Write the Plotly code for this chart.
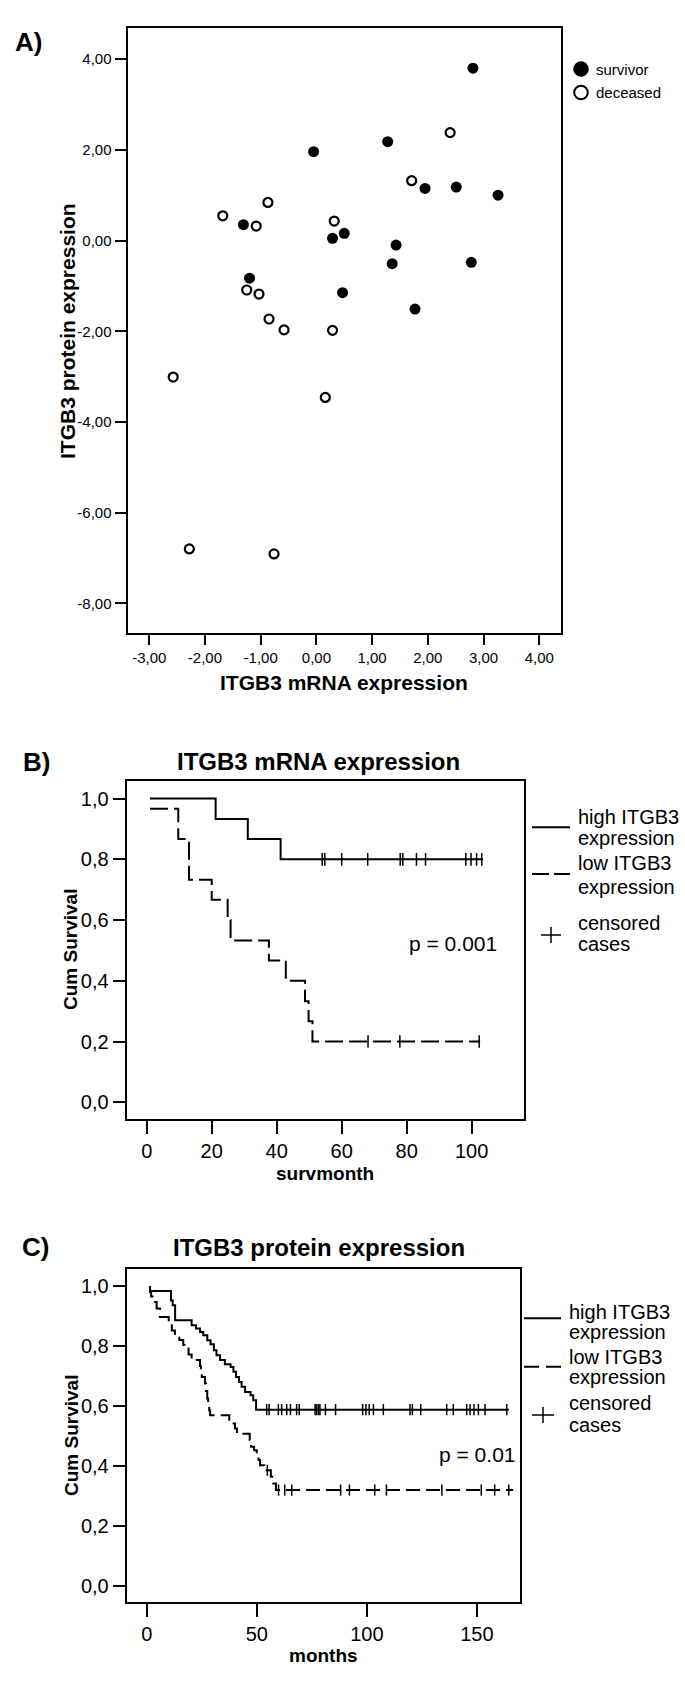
import plotly.graph_objects as go

W, H = 685, 1693

# ---------------- Panel A data (ITGB3 mRNA vs protein) ----------------
survivor_mrna = [2.81, 1.28, -0.05, 1.95, 2.51, 3.26, -1.31, 0.29, 0.50, 1.43, 1.36, 2.78, -1.20, 0.47, 1.77]
survivor_prot = [3.80, 2.18, 1.96, 1.15, 1.18, 1.00, 0.35, 0.05, 0.16, -0.10, -0.51, -0.48, -0.83, -1.15, -1.51]
deceased_mrna = [2.40, 1.71, -0.87, -1.68, -1.08, 0.32, -1.25, -1.03, -0.85, -0.58, 0.29, -2.57, 0.16, -2.28, -0.76]
deceased_prot = [2.38, 1.32, 0.84, 0.545, 0.32, 0.43, -1.09, -1.18, -1.73, -1.97, -1.98, -3.01, -3.46, -6.80, -6.91]
a_xticks = [-3, -2, -1, 0, 1, 2, 3, 4]
a_xticktext = ["-3,00", "-2,00", "-1,00", "0,00", "1,00", "2,00", "3,00", "4,00"]
a_yticks = [4, 2, 0, -2, -4, -6, -8]
a_yticktext = ["4,00", "2,00", "0,00", "-2,00", "-4,00", "-6,00", "-8,00"]

# ---------------- Panel B data (KM, mRNA) ----------------
b_high_start = 1.0
b_high_times = [21.2, 31.1, 41.2]
b_high_surv = [0.933, 0.867, 0.800]
b_high_end = 103.5
b_high_cens = [54.0, 54.8, 60.0, 68.0, 78.0, 78.8, 83.0, 85.8, 98.2, 99.8, 101.5, 103.1]

b_low_start = 0.967
b_low_times = [9.7, 13.0, 20.0, 24.9, 25.8, 37.6, 42.8, 48.7, 49.8, 51.0]
b_low_surv = [0.867, 0.733, 0.667, 0.600, 0.533, 0.467, 0.400, 0.333, 0.267, 0.200]
b_low_end = 102.6
b_low_cens = [68.1, 77.9, 102.3]
b_t0 = 1.0
b_xticks = [0, 20, 40, 60, 80, 100]
km_yticks = [0.0, 0.2, 0.4, 0.6, 0.8, 1.0]
km_yticktext = ["0,0", "0,2", "0,4", "0,6", "0,8", "1,0"]

# ---------------- Panel C data (KM, protein) ----------------
c_t0 = 1.5
c_high_times = [1.5, 11.0, 11.8, 12.9, 20.4, 22.4, 24.2, 25.7, 27.5, 29.0, 30.5, 31.7, 33.3, 35.5,
                38.1, 39.4, 40.6, 41.9, 43.1, 44.7, 47.2, 48.4, 49.7]
c_high_surv = [0.983, 0.952, 0.936, 0.886, 0.869, 0.858, 0.847, 0.836, 0.819, 0.806, 0.786, 0.769,
               0.753, 0.739, 0.730, 0.714, 0.697, 0.680, 0.664, 0.647, 0.636, 0.619, 0.588]
c_high_end = 164.5
c_high_cens = [54.5, 55.6, 59.8, 61.3, 63.6, 65.3, 68.1, 69.3, 76.5, 77.2, 78.0, 78.7, 81.2, 85.8,
               98.1, 99.6, 101.1, 103.0, 107.5, 119.6, 120.7, 124.5, 136.3, 139.3, 145.4, 146.9,
               148.7, 150.7, 153.7, 163.6]

c_low_times = [1.5, 2.0, 2.6, 4.5, 6.0, 10.0, 11.4, 12.8, 14.8, 16.6, 17.2, 19.0, 20.4, 24.2, 24.6,
               25.0, 26.5, 26.9, 27.5, 27.9, 28.4, 28.8, 37.5, 40.1, 41.0, 46.8, 47.4, 48.8, 50.0,
               50.8, 51.5, 53.4, 56.4, 57.5, 58.7]
c_low_surv = [0.980, 0.965, 0.947, 0.925, 0.897, 0.875, 0.852, 0.836, 0.820, 0.803, 0.792, 0.772,
              0.753, 0.733, 0.714, 0.697, 0.675, 0.650, 0.625, 0.603, 0.585, 0.569, 0.542, 0.525,
              0.508, 0.486, 0.464, 0.453, 0.436, 0.420, 0.403, 0.386, 0.364, 0.342, 0.320]
c_low_end = 166.5
c_low_cens = [54.8, 59.9, 62.7, 65.9, 88.1, 92.1, 103.6, 108.9, 134.1, 152.0, 158.1, 164.5]
c_xticks = [0, 50, 100, 150]

# ---------------- helpers ----------------
def px_x(p):
    return p / W


def px_y(p):
    return 1 - p / H


def km_xy(t0, start, times, surv, t_end):
    xs = [t0] + list(times) + [t_end]
    ys = [start] + list(surv) + [surv[-1]]
    return xs, ys


def level_at(t, start, times, surv):
    v = start
    for tt, s in zip(times, surv):
        if tt <= t:
            v = s
    return v


NARROW = "Liberation Sans Narrow, Arial Narrow, Liberation Sans, Arial, sans-serif"
SANS = "Liberation Sans, Arial, sans-serif"

fig = go.Figure()

# Panel A scatter
fig.add_trace(go.Scatter(x=survivor_mrna, y=survivor_prot, mode="markers", xaxis="x", yaxis="y",
                         marker=dict(symbol="circle", size=11, color="black", line=dict(width=0)),
                         showlegend=False))
fig.add_trace(go.Scatter(x=deceased_mrna, y=deceased_prot, mode="markers", xaxis="x", yaxis="y",
                         marker=dict(symbol="circle", size=9, color="white", line=dict(width=2.2, color="black")),
                         showlegend=False))

# Panel B KM
xs, ys = km_xy(b_t0, b_high_start, b_high_times, b_high_surv, b_high_end)
fig.add_trace(go.Scatter(x=xs, y=ys, mode="lines", line=dict(shape="hv", color="black", width=2),
                         xaxis="x2", yaxis="y2", showlegend=False))
fig.add_trace(go.Scatter(x=b_high_cens, y=[level_at(t, b_high_start, b_high_times, b_high_surv) for t in b_high_cens],
                         mode="markers", marker=dict(symbol="line-ns", size=9, line=dict(width=1.5, color="black")),
                         xaxis="x2", yaxis="y2", showlegend=False))
xs, ys = km_xy(b_t0, b_low_start, b_low_times, b_low_surv, b_low_end)
fig.add_trace(go.Scatter(x=xs, y=ys, mode="lines", line=dict(shape="hv", color="black", width=2, dash="18px,6px"),
                         xaxis="x2", yaxis="y2", showlegend=False))
fig.add_trace(go.Scatter(x=b_low_cens, y=[level_at(t, b_low_start, b_low_times, b_low_surv) for t in b_low_cens],
                         mode="markers", marker=dict(symbol="line-ns", size=9, line=dict(width=1.5, color="black")),
                         xaxis="x2", yaxis="y2", showlegend=False))

# Panel C KM
xs, ys = km_xy(c_t0, 1.0, c_high_times, c_high_surv, c_high_end)
fig.add_trace(go.Scatter(x=xs, y=ys, mode="lines", line=dict(shape="hv", color="black", width=2),
                         xaxis="x3", yaxis="y3", showlegend=False))
fig.add_trace(go.Scatter(x=c_high_cens, y=[level_at(t, 1.0, c_high_times, c_high_surv) for t in c_high_cens],
                         mode="markers", marker=dict(symbol="line-ns", size=8, line=dict(width=1.5, color="black")),
                         xaxis="x3", yaxis="y3", showlegend=False))
xs, ys = km_xy(c_t0, 1.0, c_low_times, c_low_surv, c_low_end)
fig.add_trace(go.Scatter(x=xs, y=ys, mode="lines", line=dict(shape="hv", color="black", width=2, dash="14px,6px"),
                         xaxis="x3", yaxis="y3", showlegend=False))
fig.add_trace(go.Scatter(x=c_low_cens, y=[level_at(t, 1.0, c_low_times, c_low_surv) for t in c_low_cens],
                         mode="markers", marker=dict(symbol="line-ns", size=8, line=dict(width=1.5, color="black")),
                         xaxis="x3", yaxis="y3", showlegend=False))

axis_common = dict(showline=True, linecolor="black", linewidth=2, mirror=True, ticks="outside",
                   tickcolor="black", tickwidth=2, showgrid=False, zeroline=False, fixedrange=True)

fig.update_layout(
    width=W, height=H, margin=dict(l=0, r=0, t=0, b=0),
    paper_bgcolor="white", plot_bgcolor="white", showlegend=False,
    xaxis=dict(domain=[px_x(127.5), px_x(561)], range=[-3.39, 4.39], tickvals=a_xticks, ticktext=a_xticktext,
               ticklen=10, tickfont=dict(family=SANS, size=15, color="black"), anchor="y", **axis_common),
    yaxis=dict(domain=[px_y(633.3), px_y(28.3)], range=[-8.66, 4.68], tickvals=a_yticks, ticktext=a_yticktext,
               ticklen=11, tickfont=dict(family=SANS, size=15, color="black"), anchor="x", **axis_common),
    xaxis2=dict(domain=[px_x(126.6), px_x(524)], range=[-6.2, 116.1], tickvals=b_xticks,
                ticklen=13, tickfont=dict(family=NARROW, size=20, color="black"), anchor="y2", **axis_common),
    yaxis2=dict(domain=[px_y(1119.3), px_y(781)], range=[-0.056, 1.058], tickvals=km_yticks, ticktext=km_yticktext,
                ticklen=12, tickfont=dict(family=NARROW, size=20, color="black"), anchor="x2", **axis_common),
    xaxis3=dict(domain=[px_x(126.7), px_x(520)], range=[-9.1, 169.6], tickvals=c_xticks,
                ticklen=13, tickfont=dict(family=NARROW, size=20, color="black"), anchor="y3", **axis_common),
    yaxis3=dict(domain=[px_y(1602.3), px_y(1269.3)], range=[-0.054, 1.0556], tickvals=km_yticks, ticktext=km_yticktext,
                ticklen=12, tickfont=dict(family=NARROW, size=20, color="black"), anchor="x3", **axis_common),
)

ann = []


def text(x, y, s, size, family=SANS, bold=False, xanchor="center", angle=0):
    t = f"<b>{s}</b>" if bold else s
    ann.append(dict(x=px_x(x), y=px_y(y), xref="paper", yref="paper", text=t, showarrow=False,
                    xanchor=xanchor, yanchor="middle", textangle=angle,
                    font=dict(family=family, size=size, color="black")))


# Panel labels & titles
text(28.5, 42, "A)", 26, bold=True)
text(36, 762, "B)", 26, bold=True)
text(35, 1247, "C)", 26, bold=True)
text(318, 762, "ITGB3 mRNA expression", 24, bold=True)
text(319, 1247, "ITGB3 protein expression", 24, bold=True)

# Axis titles
text(344, 683, "ITGB3 mRNA expression", 21, bold=True)
text(68, 331, "ITGB3 protein expression", 21, bold=True, angle=-90)
text(325, 1173, "survmonth", 19, bold=True)
text(71, 950, "Cum Survival", 19, bold=True, angle=-90)
text(323, 1655, "months", 19, bold=True)
text(71, 1436, "Cum Survival", 19, bold=True, angle=-90)

# Panel A legend
text(594, 69, "survivor", 15, xanchor="left")
text(594, 92, "deceased", 15, xanchor="left")

# Panel B legend
for (yy, s) in [(816.7, "high ITGB3"), (838.3, "expression"), (863.3, "low ITGB3"),
                (886.7, "expression"), (923.3, "censored"), (944, "cases")]:
    text(575.5, yy, s, 20, family=NARROW, xanchor="left")
text(453, 943, "p = 0.001", 21, family=NARROW)

# Panel C legend
for (yy, s) in [(1311.7, "high ITGB3"), (1331.7, "expression"), (1356.7, "low ITGB3"),
                (1376.7, "expression"), (1403.3, "censored"), (1425, "cases")]:
    text(567, yy, s, 20, family=NARROW, xanchor="left")
text(476.5, 1454, "p = 0.01", 21, family=NARROW)

shapes = []


def pline(x0, y0, x1, y1, dash=None, width=2):
    ln = dict(color="black", width=width)
    if dash:
        ln["dash"] = dash
    shapes.append(dict(type="line", xref="paper", yref="paper", x0=px_x(x0), y0=px_y(y0),
                       x1=px_x(x1), y1=px_y(y1), line=ln))


def pcircle(cx, cy, r, fill, lw):
    shapes.append(dict(type="circle", xref="paper", yref="paper", x0=px_x(cx - r), x1=px_x(cx + r),
                       y0=px_y(cy + r), y1=px_y(cy - r), fillcolor=fill, line=dict(color="black", width=lw)))


pcircle(581, 69, 7.5, "black", 0.5)
pcircle(581, 92.5, 6.8, "white", 2)

# B legend symbols
pline(532, 827.3, 570, 827.3)
pline(532, 874, 570, 874, dash="17px,5px")
pline(541, 935, 561, 935, width=1.5)
pline(551, 927, 551, 943, width=1.5)

# C legend symbols
pline(524, 1318.3, 561, 1318.3)
pline(524, 1366.7, 561, 1366.7, dash="15px,7px")
pline(532, 1415, 554, 1415, width=1.5)
pline(543, 1407, 543, 1423, width=1.5)

fig.update_layout(annotations=ann, shapes=shapes)

fig.write_html("out.html", config={"displayModeBar": False, "staticPlot": True},
               post_script="document.body.style.margin='0';")
